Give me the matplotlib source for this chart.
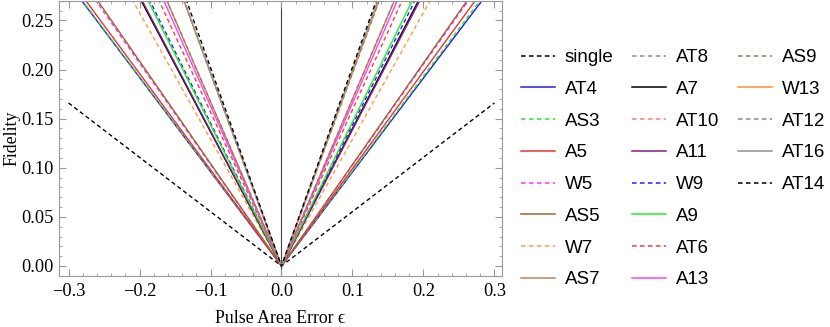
import matplotlib
matplotlib.use("Agg")
import matplotlib.pyplot as plt
from matplotlib.lines import Line2D
from matplotlib.ticker import MultipleLocator

# ---- data ----
eps = [-0.3, 0.0, 0.3]
names = ["single", "AT4", "AS3", "A5", "W5", "AS5", "W7", "AS7",
         "AT8", "A7", "AT10", "A11", "W9", "A9", "AT6", "A13",
         "AS9", "W13", "AT12", "AT16", "AT14"]
# fidelity value at eps = -0.3 and +0.3 (value at 0 is 0)
left_vals = [0.166, 0.288, 0.289, 0.294, 0.310, 0.313, 0.387, 0.502,
             0.590, 0.410, 0.590, 0.413, 0.437, 0.431, 0.470, 0.489,
             0.502, 0.590, 0.590, 0.590, 0.606]
right_vals = [0.166, 0.287, 0.290, 0.297, 0.308, 0.310, 0.387, 0.510,
              0.590, 0.420, 0.590, 0.416, 0.431, 0.440, 0.477, 0.497,
              0.510, 0.590, 0.590, 0.598, 0.607]
colors = ["#000000", "#2020e0", "#30e030", "#f03030", "#ff30ff", "#a0622d",
          "#ff9a40", "#b8865a", "#909090", "#000000", "#ff8080", "#8a1a8a",
          "#2020ff", "#20f020", "#f04040", "#ff40ff", "#a87850", "#ff9030",
          "#a08060", "#909090", "#000000"]
dashed = [True, False, True, False, True, False, True, False,
          True, False, True, False, True, False, True, False,
          True, False, True, False, True]

plt.rcParams["font.family"] = ["Liberation Serif", "DejaVu Serif"]
plt.rcParams["xtick.labelsize"] = 13.2
plt.rcParams["ytick.labelsize"] = 13.2

fig = plt.figure(figsize=(8.3, 3.27), dpi=100)
ax = fig.add_axes([59/830, 1-276/327, (502-59)/830, 275.5/327])

handles = []
for n, lv, rv, c, d in zip(names, left_vals, right_vals, colors, dashed):
    kw = dict(color=c, lw=1.0)
    if d:
        kw.update(ls=(0, (3.0, 2.2)))
    ax.plot(eps, [lv, 0.0, rv], **kw)
    hk = dict(kw)
    hk["lw"] = 1.1
    handles.append(Line2D([], [], **hk))

ax.axvline(0, color="#444444", lw=0.8, zorder=0)

ax.set_xlim(-0.3134, 0.3106)
ax.set_ylim(-0.0102, 0.2703)
ax.xaxis.set_major_locator(MultipleLocator(0.1))
ax.xaxis.set_minor_locator(MultipleLocator(0.02))
ax.yaxis.set_major_locator(MultipleLocator(0.05))
ax.yaxis.set_minor_locator(MultipleLocator(0.01))
ax.xaxis.set_major_formatter(plt.FuncFormatter(lambda v, p: ("\u2212" if v < -1e-9 else "") + f"{abs(v):.1f}"))
ax.yaxis.set_major_formatter(plt.FuncFormatter(lambda v, p: f"{v:.2f}"))
ax.tick_params(which="both", direction="in", top=True, right=True, color="#999999")
ax.tick_params(which="major", length=5, width=0.8)
ax.tick_params(which="minor", length=2.5, width=0.6)
ax.tick_params(axis="x", pad=5)
ax.tick_params(axis="y", pad=4)
for sp in ax.spines.values():
    sp.set_color("#999999")
    sp.set_linewidth(0.8)

ax.set_xlabel("Pulse Area Error \u03f5", fontsize=12.8)
ax.xaxis.set_label_coords(0.5, -(310 - 276) / 275.5)
ax.set_ylabel("Fidelity", fontsize=12.8)
ax.yaxis.set_label_coords(-(59 - 20) / 443, 0.5)

# legend: 8 rows x 3 columns, column-major, padded with blanks
blank = Line2D([], [], color="none")
leg_h = handles + [blank] * 3
leg_l = names + [""] * 3
fig.legend(leg_h, leg_l, ncol=3, loc="upper left",
           bbox_to_anchor=(521/830, 1-49/327), frameon=False,
           prop={"family": ["Liberation Sans", "DejaVu Sans"], "size": 13.5},
           handlelength=1.81, handletextpad=0.53, columnspacing=1.0,
           labelspacing=0.78, borderpad=0, borderaxespad=0)

fig.savefig("out.png", dpi=100)
